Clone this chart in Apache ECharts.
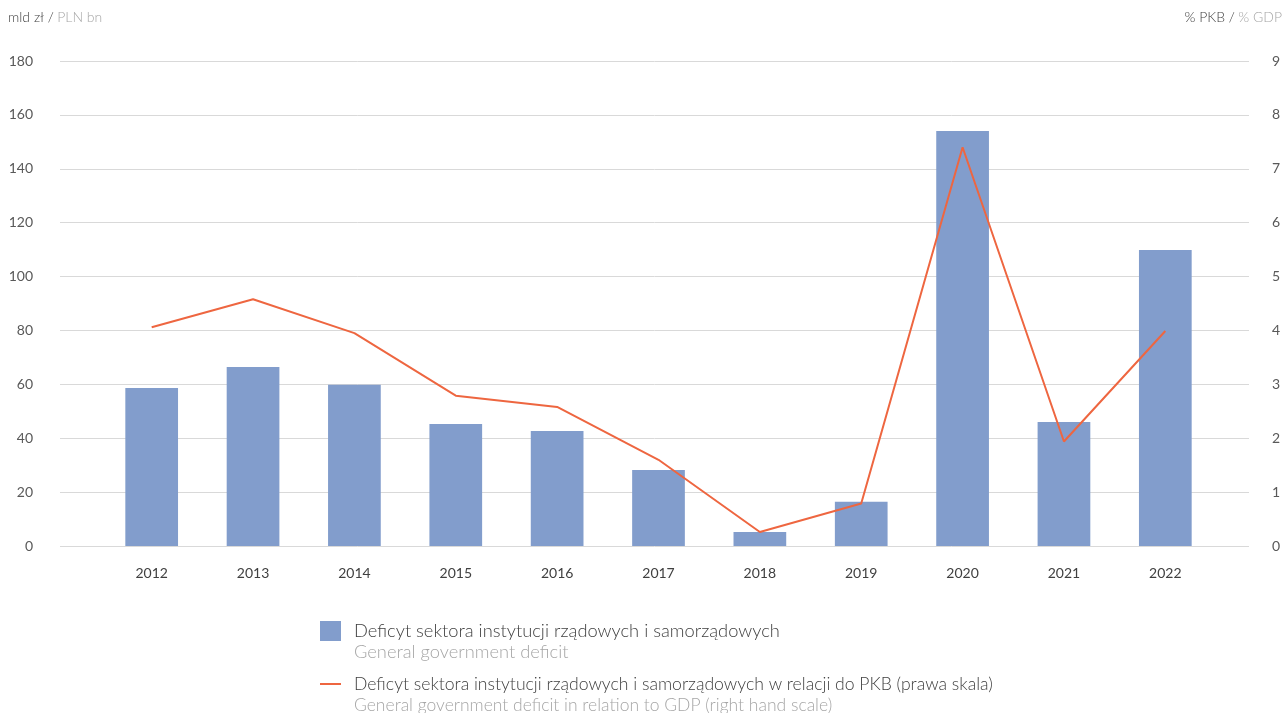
<!DOCTYPE html>
<html>
<head>
<meta charset="utf-8">
<script src="https://cdn.jsdelivr.net/npm/echarts@6/dist/echarts.min.js"></script>
<style>
  html, body { margin: 0; padding: 0; background: #ffffff; }
  #chart { width: 1284px; height: 713px; }
</style>
</head>
<body>
<div id="chart"></div>
<script>
// Years on the category axis
const years = ['2012', '2013', '2014', '2015', '2016', '2017', '2018', '2019', '2020', '2021', '2022'];
// General government deficit, PLN bn (left scale)
const deficitPln = [58.6, 66.4, 59.8, 45.3, 42.7, 28.2, 5.2, 16.4, 154.0, 46.0, 109.9];
// General government deficit, % of GDP (right scale)
const deficitGdp = [4.06, 4.58, 3.95, 2.79, 2.58, 1.60, 0.26, 0.79, 7.40, 1.94, 3.99];
// Scale settings
const leftScale = { min: 0, max: 180, interval: 20 };
const rightScale = { min: 0, max: 9, interval: 1 };
// Legend texts (Polish / English)
const barNamePl = 'Deficyt sektora instytucji rządowych i samorządowych';
const barNameEn = 'General government deficit';
const lineNamePl = 'Deficyt sektora instytucji rządowych i samorządowych w relacji do PKB (prawa skala)';
const lineNameEn = 'General government deficit in relation to GDP (right hand scale)';

const FONT = 'Lato, "Noto Sans", sans-serif';
const DARK = '#404040';
const MID = '#595959';
const LIGHT = '#a6a6a6';
const BAR = '#829dcc';
const LINE = '#ee6640';

// thin horizontal stroke inside a 21x20 box, used as the line legend icon
const LINE_ICON = 'path://M0,0h0.01v0.01h-0.01z M0,9h21v2h-21z M20.99,19.99h0.01v0.01h-0.01z';

const chart = echarts.init(document.getElementById('chart'), null, { renderer: 'canvas' });

chart.setOption({
  animation: false,
  textStyle: { fontFamily: FONT },
  grid: [
    // frame for the value axes and gridlines
    { left: 60, right: 35, top: 61, bottom: 167 },
    // frame for the bars and line
    { left: 101, right: 68, top: 61, bottom: 167 }
  ],
  xAxis: [
    { gridIndex: 0, type: 'value', min: 0, max: 1, show: false },
    {
      gridIndex: 1, type: 'category', data: years,
      axisLine: { show: false }, axisTick: { show: false },
      axisLabel: { color: DARK, fontSize: 14, margin: 20, fontFamily: FONT }
    }
  ],
  yAxis: [
    {
      gridIndex: 0, type: 'value', position: 'left',
      min: leftScale.min, max: leftScale.max, interval: leftScale.interval,
      axisLine: { show: false }, axisTick: { show: false },
      axisLabel: { color: MID, fontSize: 14, margin: 27, fontFamily: FONT },
      splitLine: { show: true, lineStyle: { color: '#d9d9d9', width: 1 } }
    },
    {
      gridIndex: 0, type: 'value', position: 'right',
      min: rightScale.min, max: rightScale.max, interval: rightScale.interval,
      axisLine: { show: false }, axisTick: { show: false },
      axisLabel: { color: MID, fontSize: 14, margin: 23, fontFamily: FONT },
      splitLine: { show: false }
    },
    { gridIndex: 1, type: 'value', min: leftScale.min, max: leftScale.max, show: false, splitLine: { show: false } },
    { gridIndex: 1, type: 'value', min: rightScale.min, max: rightScale.max, show: false, splitLine: { show: false } }
  ],
  legend: {
    orient: 'vertical',
    left: 320,
    top: 621,
    padding: 0,
    itemWidth: 21,
    itemHeight: 20,
    itemGap: 33,
    textStyle: { color: DARK, fontSize: 18.3, fontFamily: FONT, fontWeight: 300, padding: [0, 0, 0, 8] },
    data: [
      { name: barNamePl, icon: 'rect' },
      {
        name: lineNamePl, icon: LINE_ICON, itemStyle: { color: LINE },
        textStyle: { color: DARK, fontSize: 17.6, fontFamily: FONT, fontWeight: 300, padding: [0, 0, 0, 8] }
      }
    ]
  },
  graphic: [
    {
      type: 'text', left: 8, top: 10,
      style: {
        text: '{a|mld zł /} {b|PLN bn}',
        rich: {
          a: { fill: DARK, fontSize: 14, fontWeight: 300, fontFamily: FONT },
          b: { fill: LIGHT, fontSize: 14, fontWeight: 300, fontFamily: FONT }
        }
      }
    },
    {
      type: 'text', right: 2, top: 10,
      style: {
        text: '{a|% PKB /} {b|% GDP}',
        rich: {
          a: { fill: DARK, fontSize: 14, fontWeight: 300, fontFamily: FONT },
          b: { fill: LIGHT, fontSize: 14, fontWeight: 300, fontFamily: FONT }
        }
      }
    },
    {
      type: 'text', left: 354, top: 643,
      style: { text: barNameEn, fill: LIGHT, fontSize: 18.3, fontFamily: FONT, fontWeight: 300 }
    },
    {
      type: 'text', left: 354, top: 696,
      style: { text: lineNameEn, fill: LIGHT, fontSize: 17.5, fontFamily: FONT, fontWeight: 300 }
    }
  ],
  series: [
    {
      name: barNamePl,
      type: 'bar',
      xAxisIndex: 1, yAxisIndex: 2,
      data: deficitPln,
      barWidth: '52%',
      itemStyle: { color: BAR }
    },
    {
      name: lineNamePl,
      type: 'line',
      xAxisIndex: 1, yAxisIndex: 3,
      data: deficitGdp,
      symbol: 'none',
      lineStyle: { color: LINE, width: 2 },
      itemStyle: { color: LINE }
    }
  ]
});
</script>
</body>
</html>
